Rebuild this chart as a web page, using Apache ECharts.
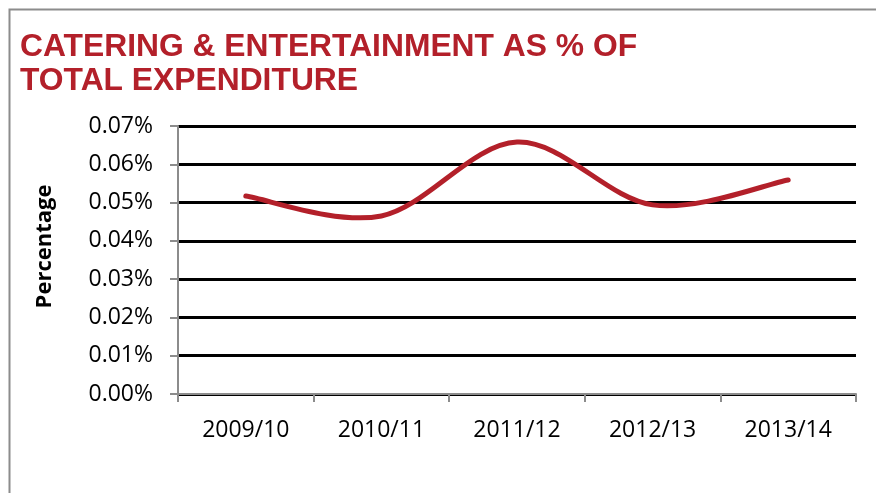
<!DOCTYPE html>
<html><head><meta charset="utf-8">
<script src="https://cdn.jsdelivr.net/npm/echarts@6/dist/echarts.min.js"></script>
<style>html,body{margin:0;padding:0;background:#fff}#c{width:876px;height:493px}</style>
</head><body><div id="c"></div>
<script>
const categories = ['2009/10','2010/11','2011/12','2012/13','2013/14'];
const values = [0.0517, 0.0465, 0.0658, 0.0494, 0.0559];
const yTicks = [0,0.01,0.02,0.03,0.04,0.05,0.06,0.07];
const titleText = 'CATERING & ENTERTAINMENT AS % OF\nTOTAL EXPENDITURE';
const yName = 'Percentage';

const RED = '#B3202A';
const chart = echarts.init(document.getElementById('c'), null, {renderer:'canvas'});

function renderCurve(params, api){
  if (params.dataIndex !== 0) return null;
  const pts = values.map((v,i)=>api.coord([i, v]));
  let d = 'M' + pts[0][0] + ' ' + pts[0][1];
  for (let i = 0; i < pts.length - 1; i++) {
    const p0 = pts[Math.max(i-1,0)], p1 = pts[i], p2 = pts[i+1], p3 = pts[Math.min(i+2, pts.length-1)];
    const c1x = p1[0] + (p2[0]-p0[0])/6, c1y = p1[1] + (p2[1]-p0[1])/6;
    const c2x = p2[0] - (p3[0]-p1[0])/6, c2y = p2[1] - (p3[1]-p1[1])/6;
    d += ' C' + c1x + ' ' + c1y + ' ' + c2x + ' ' + c2y + ' ' + p2[0] + ' ' + p2[1];
  }
  return {type:'path', shape:{pathData:d}, style:{fill:'none', stroke:RED, lineWidth:5, lineCap:'round', lineJoin:'round'}};
}

chart.setOption({
  animation:false,
  backgroundColor:'#fff',
  graphic:[{type:'rect',shape:{x:9.5,y:9.5,width:900,height:600},style:{fill:'none',stroke:'#8c8c8c',lineWidth:2}}],
  title:{text:titleText,left:15,top:25,textStyle:{fontFamily:'Liberation Sans',fontWeight:'bold',fontSize:31.8,color:RED,lineHeight:34}},
  grid:{left:178,right:20,top:126,bottom:99},
  xAxis:{type:'category',data:categories,boundaryGap:true,
    axisLine:{lineStyle:{color:'#8c8c8c',width:2}},
    axisTick:{show:true,length:8,lineStyle:{color:'#8c8c8c',width:2}},
    axisLabel:{fontFamily:'Open Sans',fontSize:23,color:'#000',margin:25}},
  yAxis:{type:'value',min:0,max:0.07,interval:0.01,
    name:yName,nameLocation:'middle',nameGap:122,
    nameTextStyle:{fontFamily:'Open Sans',fontWeight:'bold',fontSize:22,color:'#000',padding:[0,0,0,27]},
    axisLine:{show:true,lineStyle:{color:'#8c8c8c',width:2}},
    axisTick:{show:true,length:8,lineStyle:{color:'#8c8c8c',width:2}},
    splitLine:{lineStyle:{color:'#000',width:3}},
    axisLabel:{fontFamily:'Open Sans',fontSize:23,color:'#000',margin:25,
      formatter:v=>v.toFixed(2)+'%'}},
  series:[{type:'custom',data:values.map((v,i)=>[i,v]),encode:{x:0,y:1},
    renderItem:renderCurve,z:5,clip:false}]
});
</script></body></html>
